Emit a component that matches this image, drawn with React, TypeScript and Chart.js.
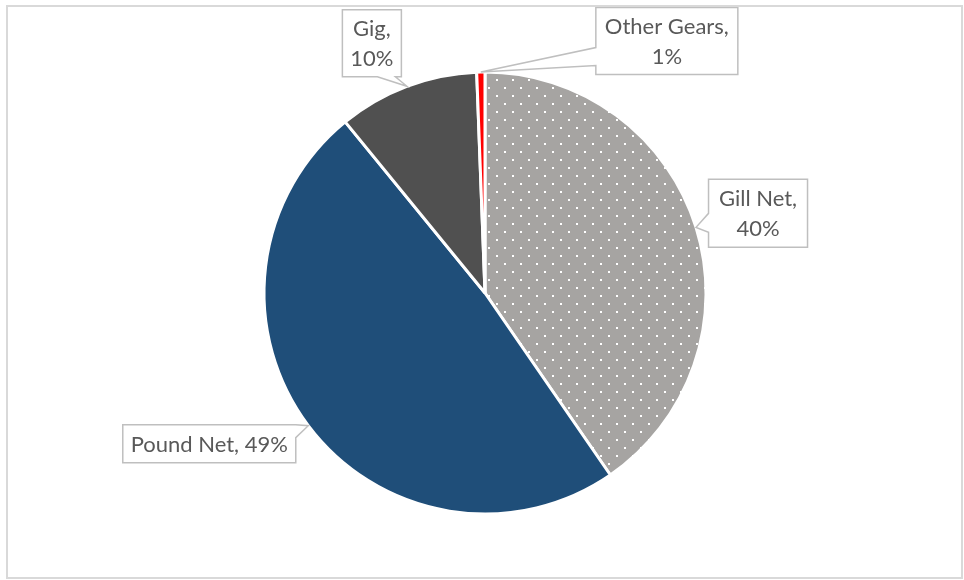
import React, { useEffect, useRef } from "react";
import { Chart, registerables } from "chart.js";

Chart.register(...registerables);

const categories = ["Gill Net", "Pound Net", "Gig", "Other Gears"];
const shares = [40.4, 48.7, 10.3, 0.6];
const percentLabels = ["40%", "49%", "10%", "1%"];
const labelLines = [
  ["Gill Net,", "40%"],
  ["Pound Net, 49%"],
  ["Gig,", "10%"],
  ["Other Gears,", "1%"],
];

// callout styling: box center offset from anchor, box size, wedge side + base range
const calloutStyles = [
  { dx: 62, dy: -14, w: 99, h: 68, side: "left", a: 34, b: 53 },
  { dx: -99, dy: 18, w: 173, h: 38, side: "right", a: 0, b: 13 },
  { dx: -35, dy: -43, w: 59, h: 67, side: "bottom", a: 35, b: 53 },
  { dx: 186, dy: -31, w: 142, h: 67, side: "left", a: 40, b: 58 },
];

const FONT = "22px Lato, 'Open Sans', sans-serif";

function makePattern(): CanvasPattern | string {
  const c = document.createElement("canvas");
  c.width = 16;
  c.height = 16;
  const g = c.getContext("2d");
  if (!g) return "#A6A4A2";
  g.fillStyle = "#A6A4A2";
  g.fillRect(0, 0, 16, 16);
  g.fillStyle = "#FFFFFF";
  g.fillRect(0, 0, 2, 2);
  g.fillRect(8, 8, 2, 2);
  const p = g.createPattern(c, "repeat");
  return p || "#A6A4A2";
}

const calloutPlugin = {
  id: "callouts",
  afterDraw(chart: any) {
    const ctx = chart.ctx;
    const meta = chart.getDatasetMeta(0);
    meta.data.forEach((arc: any, i: number) => {
      const { x, y, startAngle, endAngle, outerRadius } = arc.getProps(
        ["x", "y", "startAngle", "endAngle", "outerRadius"],
        true
      );
      const mid = (startAngle + endAngle) / 2;
      const tx = x + Math.cos(mid) * outerRadius;
      const ty = y + Math.sin(mid) * outerRadius;
      const s = calloutStyles[i];
      const cx = tx + s.dx;
      const cy = ty + s.dy;
      const x0 = cx - s.w / 2;
      const y0 = cy - s.h / 2;
      const x1 = x0 + s.w;
      const y1 = y0 + s.h;
      ctx.save();
      ctx.beginPath();
      ctx.moveTo(x0, y0);
      if (s.side === "top") {
        ctx.lineTo(x0 + s.a, y0);
        ctx.lineTo(tx, ty);
        ctx.lineTo(x0 + s.b, y0);
      }
      ctx.lineTo(x1, y0);
      if (s.side === "right") {
        ctx.lineTo(x1, y0 + s.a);
        ctx.lineTo(tx, ty);
        ctx.lineTo(x1, y0 + s.b);
      }
      ctx.lineTo(x1, y1);
      if (s.side === "bottom") {
        ctx.lineTo(x0 + s.b, y1);
        ctx.lineTo(tx, ty);
        ctx.lineTo(x0 + s.a, y1);
      }
      ctx.lineTo(x0, y1);
      if (s.side === "left") {
        ctx.lineTo(x0, y0 + s.b);
        ctx.lineTo(tx, ty);
        ctx.lineTo(x0, y0 + s.a);
      }
      ctx.closePath();
      ctx.fillStyle = "#FFFFFF";
      ctx.fill();
      ctx.lineWidth = 1.5;
      ctx.strokeStyle = "#BFBFBF";
      ctx.lineJoin = "miter";
      ctx.stroke();
      ctx.fillStyle = "#595959";
      ctx.font = FONT;
      ctx.textAlign = "center";
      ctx.textBaseline = "middle";
      const lines = labelLines[i];
      const lh = 30;
      const startY = cy - ((lines.length - 1) * lh) / 2;
      lines.forEach((t, k) => ctx.fillText(t, cx, startY + k * lh + 1));
      ctx.restore();
    });
  },
};

export default function App() {
  const ref = useRef<HTMLCanvasElement>(null);
  useEffect(() => {
    if (!ref.current) return;
    const chart = new Chart(ref.current, {
      type: "pie",
      data: {
        labels: categories,
        datasets: [
          {
            data: shares,
            backgroundColor: [makePattern(), "#1F4E79", "#505050", "#FF0000"],
            borderColor: "#FFFFFF",
            borderWidth: 3,
          },
        ],
      },
      options: {
        animation: false,
        responsive: false,
        radius: 221,
        layout: { padding: { left: 1, right: 0, top: 2, bottom: 0 } },
        plugins: {
          legend: { display: false },
          tooltip: { enabled: false },
        },
      } as any,
      plugins: [calloutPlugin],
    });
    return () => chart.destroy();
  }, []);
  return (
    <div
      style={{
        position: "absolute",
        left: 6,
        top: 5,
        width: 953,
        height: 570,
        border: "2px solid #D9D9D9",
        background: "#FFFFFF",
      }}
    >
      <canvas ref={ref} width={953} height={570} style={{ display: "block" }} />
    </div>
  );
}
